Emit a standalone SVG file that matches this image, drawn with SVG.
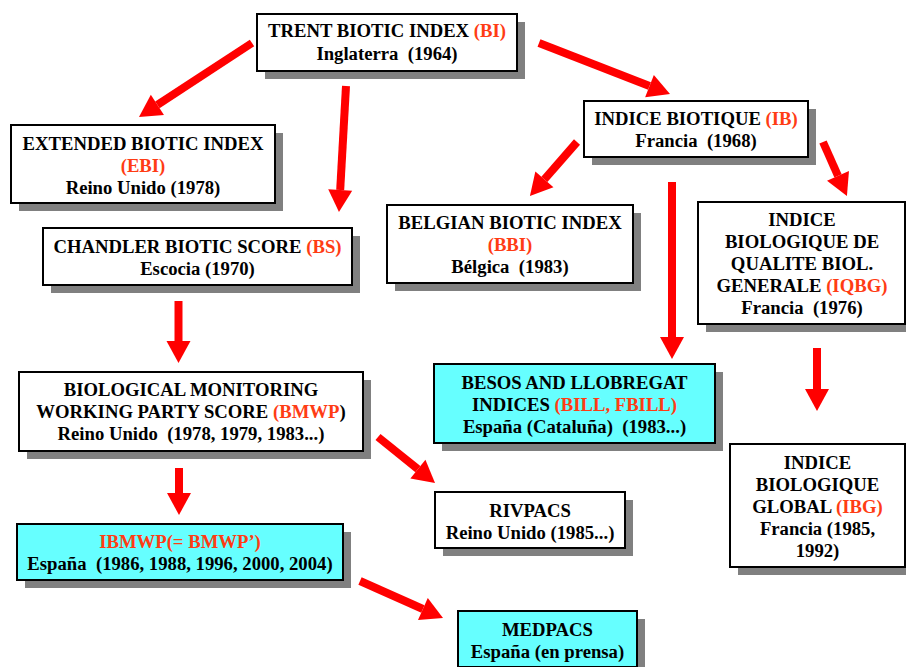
<svg xmlns="http://www.w3.org/2000/svg" width="906" height="667" viewBox="0 0 906 667">
<defs>
<marker id="ah" markerUnits="strokeWidth" markerWidth="3" markerHeight="3" refX="0" refY="0" viewBox="0 -1.5 2.75 3" orient="auto" overflow="visible">
<path d="M0,-1.5 L2.75,0 L0,1.5 z" fill="#ff0000"/>
</marker>
</defs>
<style>
.box{fill:#ffffff;stroke:#000000;stroke-width:2}
.cy{fill:#66ffff;stroke:#000000;stroke-width:2}
.sh{fill:#808080}
text{font-family:"Liberation Serif","Times New Roman",serif;font-weight:bold;font-size:18.7px;fill:#000000;text-anchor:middle;white-space:pre}
.r{fill:#ff3c14}
.arr{stroke:#ff0000;stroke-width:8;fill:none;marker-end:url(#ah)}
</style>
<rect width="906" height="667" fill="#ffffff"/>

<g id="connectors">
<line class="arr" x1="252" y1="43" x2="157.4" y2="104.9"/>
<line class="arr" x1="346" y1="86" x2="340.2" y2="190"/>
<line class="arr" x1="539" y1="43" x2="649.5" y2="86.1"/>
<line class="arr" x1="577" y1="142" x2="544.4" y2="179.4"/>
<line class="arr" x1="823" y1="142" x2="838" y2="175.8"/>
<line class="arr" x1="672" y1="182" x2="672" y2="337"/>
<line class="arr" x1="178.5" y1="301" x2="178.5" y2="341"/>
<line class="arr" x1="179" y1="468" x2="179" y2="493"/>
<line class="arr" x1="378" y1="437" x2="417.9" y2="469.2"/>
<line class="arr" x1="360" y1="581" x2="422.9" y2="609"/>
<line class="arr" x1="817" y1="348" x2="817" y2="389"/>
</g>

<g id="trent">
<rect class="sh" x="265" y="22" width="260" height="57"/>
<rect class="box" x="257" y="14" width="260" height="57"/>
<text x="387" y="37" xml:space="preserve">TRENT BIOTIC INDEX <tspan class="r">(BI)</tspan></text>
<text x="387" y="60" xml:space="preserve">Inglaterra  (1964)</text>
</g>

<g id="ebi">
<rect class="sh" x="19" y="133" width="264" height="78"/>
<rect class="box" x="11" y="125" width="264" height="78"/>
<text x="143" y="150">EXTENDED BIOTIC INDEX</text>
<text x="143" y="172" class="r">(EBI)</text>
<text x="143" y="194">Reino Unido (1978)</text>
</g>

<g id="chandler">
<rect class="sh" x="51" y="236" width="309" height="57"/>
<rect class="box" x="43" y="228" width="309" height="57"/>
<text x="197.5" y="253" xml:space="preserve">CHANDLER BIOTIC SCORE <tspan class="r">(BS)</tspan></text>
<text x="197.5" y="275">Escocia (1970)</text>
</g>

<g id="bmwp">
<rect class="sh" x="27" y="380" width="344" height="79"/>
<rect class="box" x="19" y="372" width="344" height="79"/>
<text x="191" y="396">BIOLOGICAL MONITORING</text>
<text x="191" y="418" xml:space="preserve">WORKING PARTY SCORE <tspan class="r">(BMWP</tspan>)</text>
<text x="191" y="440" xml:space="preserve">Reino Unido  (1978, 1979, 1983...)</text>
</g>

<g id="ibmwp">
<rect class="sh" x="25" y="532" width="326" height="56"/>
<rect class="cy" x="17" y="524" width="326" height="56"/>
<text x="180" y="548" class="r">IBMWP(= BMWP’)</text>
<text x="180" y="570" xml:space="preserve">España  (1986, 1988, 1996, 2000, 2004)</text>
</g>

<g id="ib">
<rect class="sh" x="592" y="109" width="224" height="56"/>
<rect class="box" x="584" y="101" width="224" height="56"/>
<text x="696" y="125" xml:space="preserve">INDICE BIOTIQUE <tspan class="r">(IB)</tspan></text>
<text x="696" y="147" xml:space="preserve">Francia  (1968)</text>
</g>

<g id="bbi">
<rect class="sh" x="395" y="213" width="246" height="78"/>
<rect class="box" x="387" y="205" width="246" height="78"/>
<text x="510" y="229">BELGIAN BIOTIC INDEX</text>
<text x="510" y="251" class="r">(BBI)</text>
<text x="510" y="273" xml:space="preserve">Bélgica  (1983)</text>
</g>

<g id="iqbg">
<rect class="sh" x="706" y="210" width="207" height="122"/>
<rect class="box" x="698" y="202" width="207" height="122"/>
<text x="802" y="226">INDICE</text>
<text x="802" y="248">BIOLOGIQUE DE</text>
<text x="802" y="270">QUALITE BIOL.</text>
<text x="802" y="292" xml:space="preserve">GENERALE <tspan class="r">(IQBG)</tspan></text>
<text x="802" y="314" xml:space="preserve">Francia  (1976)</text>
</g>

<g id="bill">
<rect class="sh" x="442" y="372" width="281" height="79"/>
<rect class="cy" x="434" y="364" width="281" height="79"/>
<text x="574.5" y="389">BESOS AND LLOBREGAT</text>
<text x="574.5" y="411" xml:space="preserve">INDICES <tspan class="r">(BILL, FBILL)</tspan></text>
<text x="574.5" y="433" xml:space="preserve">España (Cataluña)  (1983...)</text>
</g>

<g id="rivpacs">
<rect class="sh" x="443" y="500" width="190" height="56"/>
<rect class="box" x="435" y="492" width="190" height="56"/>
<text x="530" y="517">RIVPACS</text>
<text x="530" y="539">Reino Unido (1985...)</text>
</g>

<g id="medpacs">
<rect class="sh" x="466" y="619" width="179" height="56"/>
<rect class="cy" x="458" y="611" width="179" height="56"/>
<text x="547.5" y="636">MEDPACS</text>
<text x="547.5" y="658">España (en prensa)</text>
</g>

<g id="ibg">
<rect class="sh" x="738" y="452" width="175" height="123"/>
<rect class="box" x="730" y="444" width="175" height="123"/>
<text x="817.5" y="469">INDICE</text>
<text x="817.5" y="491">BIOLOGIQUE</text>
<text x="817.5" y="513" xml:space="preserve">GLOBAL <tspan class="r">(IBG)</tspan></text>
<text x="817.5" y="535">Francia (1985,</text>
<text x="817.5" y="557">1992)</text>
</g>
</svg>
